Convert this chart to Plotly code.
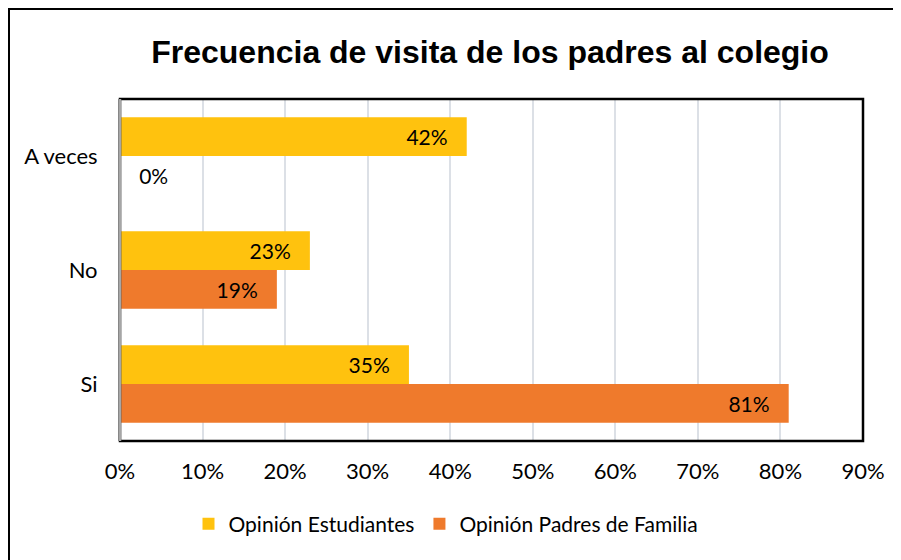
import plotly.graph_objects as go

categories = ["Si", "No", "A veces"]
estudiantes = [0.35, 0.23, 0.42]
padres = [0.81, 0.19, 0.0]
x_ticks = [0, 0.1, 0.2, 0.3, 0.4, 0.5, 0.6, 0.7, 0.8, 0.9]
x_tick_labels = ["0%", "10%", "20%", "30%", "40%", "50%", "60%", "70%", "80%", "90%"]

font_body = "Lato"
NB = "\u00a0"

def labels(vals):
    out = []
    for v in vals:
        s = f"{round(v*100)}%"
        out.append(NB * 3 + s if v == 0 else s + NB * 3)
    return out

def positions(vals):
    return ["outside" if v == 0 else "inside" for v in vals]

# figure-pixel geometry (page body adds an 8px offset)
L, R, T, B = 112, 855, 91, 433
PW, PH = R - L, B - T

fig = go.Figure()
fig.add_trace(go.Bar(
    y=categories, x=padres, orientation="h", name="Opinión Padres de Familia",
    marker=dict(color="#EF7A2C", line=dict(width=0)),
    text=labels(padres), textposition=positions(padres), insidetextanchor="end",
    textfont=dict(color="black", size=21, family=font_body),
    cliponaxis=False, hoverinfo="skip",
))
fig.add_trace(go.Bar(
    y=categories, x=estudiantes, orientation="h", name="Opinión Estudiantes",
    marker=dict(color="#FFC20E", line=dict(width=0)),
    text=labels(estudiantes), textposition=positions(estudiantes), insidetextanchor="end",
    textfont=dict(color="black", size=21, family=font_body),
    cliponaxis=False, hoverinfo="skip",
))

fig.update_layout(
    width=901, height=560,
    paper_bgcolor="white", plot_bgcolor="white",
    margin=dict(l=L, r=901 - R, t=T, b=560 - B),
    barmode="group", bargap=0.32, bargroupgap=0,
    font=dict(family=font_body, size=21, color="black"),
    title=dict(text="<b>Frecuencia de visita de los padres al colegio</b>",
               x=482 / 901, xanchor="center", y=1 - 44 / 560, yanchor="middle",
               font=dict(family="Liberation Sans, Arial, sans-serif", size=32, color="black")),
    xaxis=dict(range=[0, 0.9], tickvals=x_ticks, ticktext=x_tick_labels,
               showgrid=True, gridcolor="#DCE0E6", gridwidth=1.5, zeroline=False,
               showline=False, ticks="", tickfont=dict(size=22), ticklabelstandoff=15),
    yaxis=dict(showgrid=False, showline=True, linecolor="#A6A6A6", linewidth=2,
               ticks="", tickfont=dict(size=22), ticklabelstandoff=16),
    legend=dict(orientation="h", x=(438 - L) / PW, xanchor="center",
                y=(B - 516) / PH, yanchor="middle",
                traceorder="reversed", font=dict(size=21)),
    showlegend=True,
    shapes=[
        dict(type="rect", xref="paper", yref="paper", x0=0, x1=1, y0=0, y1=1,
             line=dict(color="black", width=2.5), fillcolor="rgba(0,0,0,0)", layer="above"),
        dict(type="line", xref="paper", yref="paper", x0=0, x1=0, y0=0, y1=1,
             line=dict(color="#A6A6A6", width=2.5), layer="above"),
        dict(type="rect", xref="paper", yref="paper",
             x0=(1 - L) / PW, x1=(915 - L) / PW,
             y0=(B - 580) / PH, y1=(B - 1) / PH,
             line=dict(color="black", width=2), fillcolor="rgba(0,0,0,0)", layer="above"),
    ],
)

fig.write_html("out.html")
